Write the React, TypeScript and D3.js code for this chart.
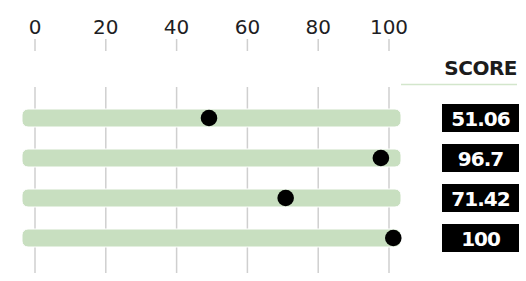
import React from "react";
import * as d3 from "d3";

const rows = ["r1", "r2", "r3", "r4"];
const scores = [51.06, 96.7, 71.42, 100];
const scoreLabels = ["51.06", "96.7", "71.42", "100"];
const ticks = [0, 20, 40, 60, 80, 100];
const header = "SCORE";

const W = 526;
const H = 281;

export default function App() {
  const xAxis = d3.scaleLinear().domain([0, 100]).range([35, 389]);
  const xDot = d3.scaleLinear().domain([0, 100]).range([16.7, 393.3]);
  const y = d3.scalePoint<string>().domain(rows).range([118, 238]);
  const barH = 18;
  const trackX0 = xAxis(0) - 13;
  const trackX1 = xAxis(100) + 12;
  const boxX = 442;
  const boxW = 77;
  const boxH = 28;
  const font = "'DejaVu Sans', sans-serif";

  return (
    <svg
      width={W}
      height={H}
      style={{ position: "absolute", left: 0, top: 0, background: "#fff" }}
    >
      {ticks.map((t) => (
        <g key={"g" + t}>
          <line x1={xAxis(t)} x2={xAxis(t)} y1={39} y2={51} stroke="#cfcfcf" strokeWidth={1.5} />
          <line x1={xAxis(t)} x2={xAxis(t)} y1={87} y2={273} stroke="#cfcfcf" strokeWidth={1.5} />
          <text
            x={xAxis(t)}
            y={34}
            textAnchor="middle"
            fontFamily={font}
            fontSize={20}
            fill="#1e1e24"
          >
            {t}
          </text>
        </g>
      ))}
      <text
        x={517}
        y={75}
        textAnchor="end"
        fontFamily={font}
        fontWeight="bold"
        fontSize={20}
        fill="#1c1c1c"
        letterSpacing={-0.5}
      >
        {header}
      </text>
      <line x1={401} x2={517} y1={84.5} y2={84.5} stroke="#d3e6cc" strokeWidth={1.5} />
      {rows.map((r, i) => {
        const cy = y(r)!;
        return (
          <g key={r}>
            <rect
              x={trackX0}
              y={cy - barH / 2}
              width={trackX1 - trackX0}
              height={barH}
              rx={6}
              fill="#c8dfc0"
              stroke="#fff"
              strokeWidth={1}
            />
            <circle cx={xDot(scores[i])} cy={cy} r={8.3} fill="#000" />
            <rect x={boxX} y={cy - boxH / 2} width={boxW} height={boxH} fill="#000" />
            <text
              x={boxX + boxW / 2}
              y={cy + 7.5}
              textAnchor="middle"
              fontFamily={font}
              fontWeight="bold"
              fontSize={20}
              fill="#fff"
              letterSpacing={-1}
            >
              {scoreLabels[i]}
            </text>
          </g>
        );
      })}
    </svg>
  );
}
